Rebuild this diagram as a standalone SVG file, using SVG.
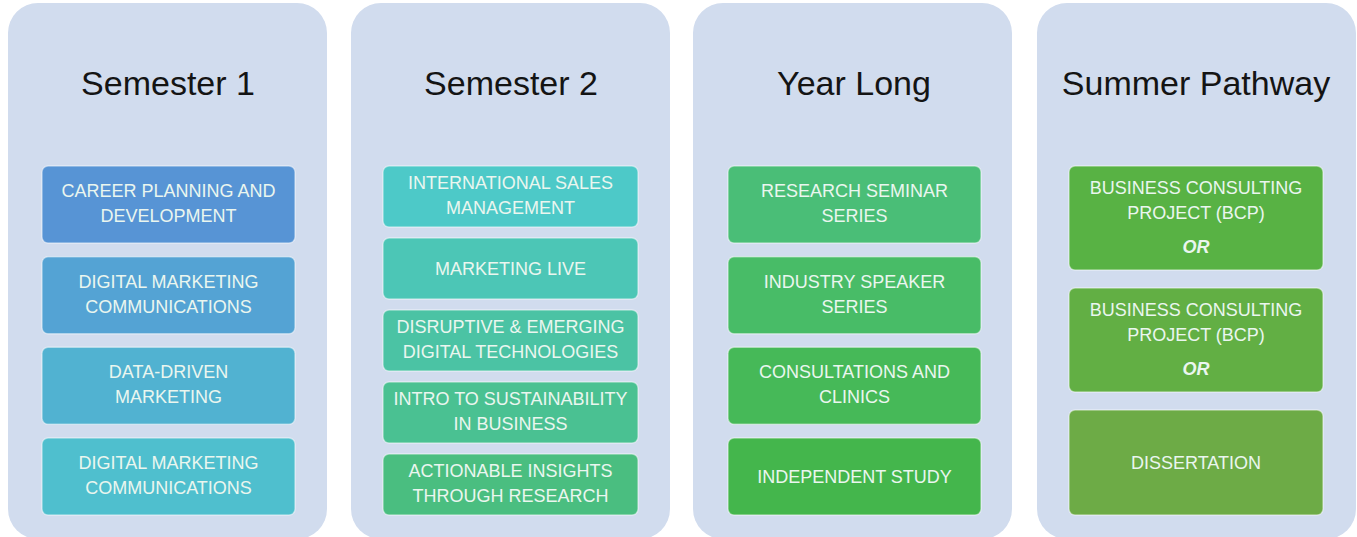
<svg xmlns="http://www.w3.org/2000/svg" width="1357" height="537" viewBox="0 0 1357 537">
<style>
.bg{fill:#ffffff}
.panel{fill:#D1DCEE}
.box{stroke:#ffffff;stroke-opacity:0.45;stroke-width:1.5}
.title{font-family:"Liberation Sans",Arial,sans-serif;font-size:34px;fill:#141414;text-anchor:middle}
.lbl{font-family:"Liberation Sans",Arial,sans-serif;font-size:18px;fill:#EAF6EF;text-anchor:middle}
.or{font-weight:bold;font-style:italic}
</style>
<rect class="bg" x="0" y="0" width="1357" height="537"/>
<g id="col-semester1">
<rect class="panel" x="8" y="3" width="319" height="536" rx="30"/>
<text class="title" x="168" y="95">Semester 1</text>
</g>
<g id="col-semester2">
<rect class="panel" x="351" y="3" width="319" height="536" rx="30"/>
<text class="title" x="511" y="95">Semester 2</text>
</g>
<g id="col-yearlong">
<rect class="panel" x="693" y="3" width="319" height="536" rx="30"/>
<text class="title" x="854" y="95">Year Long</text>
</g>
<g id="col-summer">
<rect class="panel" x="1037" y="3" width="319" height="536" rx="30"/>
<text class="title" x="1196" y="95">Summer Pathway</text>
</g>

<g id="s1-career">
<rect class="box" x="42" y="166" width="253" height="77" rx="6" fill="#5794D5"/>
<text class="lbl" x="168.5" y="197">CAREER PLANNING AND</text>
<text class="lbl" x="168.5" y="222">DEVELOPMENT</text>
</g>
<g id="s1-dmc1">
<rect class="box" x="42" y="256.7" width="253" height="77" rx="6" fill="#54A3D4"/>
<text class="lbl" x="168.5" y="287.7">DIGITAL MARKETING</text>
<text class="lbl" x="168.5" y="312.7">COMMUNICATIONS</text>
</g>
<g id="s1-ddm">
<rect class="box" x="42" y="347.3" width="253" height="77" rx="6" fill="#51B2D1"/>
<text class="lbl" x="168.5" y="378.3">DATA-DRIVEN</text>
<text class="lbl" x="168.5" y="403.3">MARKETING</text>
</g>
<g id="s1-dmc2">
<rect class="box" x="42" y="438" width="253" height="77" rx="6" fill="#4FBFCE"/>
<text class="lbl" x="168.5" y="469">DIGITAL MARKETING</text>
<text class="lbl" x="168.5" y="494">COMMUNICATIONS</text>
</g>

<g id="s2-ism">
<rect class="box" x="383" y="166" width="255" height="61" rx="6" fill="#4DC9C8"/>
<text class="lbl" x="510.5" y="189">INTERNATIONAL SALES</text>
<text class="lbl" x="510.5" y="214">MANAGEMENT</text>
</g>
<g id="s2-live">
<rect class="box" x="383" y="238" width="255" height="61" rx="6" fill="#4CC6B6"/>
<text class="lbl" x="510.5" y="274.5">MARKETING LIVE</text>
</g>
<g id="s2-disruptive">
<rect class="box" x="383" y="310" width="255" height="61" rx="6" fill="#4BC3A4"/>
<text class="lbl" x="510.5" y="333">DISRUPTIVE &amp; EMERGING</text>
<text class="lbl" x="510.5" y="358">DIGITAL TECHNOLOGIES</text>
</g>
<g id="s2-sustain">
<rect class="box" x="383" y="382" width="255" height="61" rx="6" fill="#4AC192"/>
<text class="lbl" x="510.5" y="405">INTRO TO SUSTAINABILITY</text>
<text class="lbl" x="510.5" y="430">IN BUSINESS</text>
</g>
<g id="s2-insights">
<rect class="box" x="383" y="454" width="255" height="61" rx="6" fill="#4ABE80"/>
<text class="lbl" x="510.5" y="477">ACTIONABLE INSIGHTS</text>
<text class="lbl" x="510.5" y="502">THROUGH RESEARCH</text>
</g>

<g id="yl-research">
<rect class="box" x="728" y="166" width="253" height="77" rx="6" fill="#4ABE77"/>
<text class="lbl" x="854.5" y="197">RESEARCH SEMINAR</text>
<text class="lbl" x="854.5" y="222">SERIES</text>
</g>
<g id="yl-speaker">
<rect class="box" x="728" y="256.7" width="253" height="77" rx="6" fill="#48BC67"/>
<text class="lbl" x="854.5" y="287.7">INDUSTRY SPEAKER</text>
<text class="lbl" x="854.5" y="312.7">SERIES</text>
</g>
<g id="yl-consult">
<rect class="box" x="728" y="347.3" width="253" height="77" rx="6" fill="#46B958"/>
<text class="lbl" x="854.5" y="378.3">CONSULTATIONS AND</text>
<text class="lbl" x="854.5" y="403.3">CLINICS</text>
</g>
<g id="yl-independent">
<rect class="box" x="728" y="438" width="253" height="77" rx="6" fill="#44B64C"/>
<text class="lbl" x="854.5" y="482.5">INDEPENDENT STUDY</text>
</g>

<g id="sp-bcp1">
<rect class="box" x="1069" y="166" width="254" height="104" rx="6" fill="#58B244"/>
<text class="lbl" x="1196" y="194">BUSINESS CONSULTING</text>
<text class="lbl" x="1196" y="219">PROJECT (BCP)</text>
<text class="lbl or" x="1196" y="253">OR</text>
</g>
<g id="sp-bcp2">
<rect class="box" x="1069" y="288" width="254" height="104" rx="6" fill="#62AF44"/>
<text class="lbl" x="1196" y="316">BUSINESS CONSULTING</text>
<text class="lbl" x="1196" y="341">PROJECT (BCP)</text>
<text class="lbl or" x="1196" y="375">OR</text>
</g>
<g id="sp-dissertation">
<rect class="box" x="1069" y="410" width="254" height="105" rx="6" fill="#6DAB46"/>
<text class="lbl" x="1196" y="468.5">DISSERTATION</text>
</g>
<g id="connectors"></g>
</svg>
